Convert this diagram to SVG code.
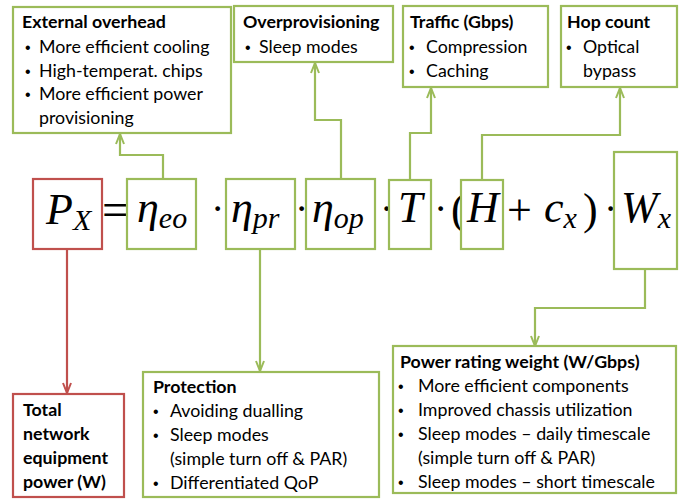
<svg xmlns="http://www.w3.org/2000/svg" width="686" height="500" viewBox="0 0 686 500">
<defs>
<style>
.g{fill:#fff;stroke:#9BBB59;stroke-width:2.2}
.r{fill:#fff;stroke:#C0504D;stroke-width:2.2}
.gl{fill:none;stroke:#9BBB59;stroke-width:2.2}
.rl{fill:none;stroke:#C0504D;stroke-width:2.2}
.t{font-family:Lato,"Open Sans","Liberation Sans",sans-serif;font-size:17.8px;fill:#000}
.bu{font-family:"Liberation Sans",Arial,sans-serif;font-size:16px;fill:#000}
.b{font-weight:bold}
.m{font-family:"Liberation Serif","DejaVu Serif",serif;font-style:italic;fill:#000}
.mn{font-family:"Liberation Serif","DejaVu Serif",serif;fill:#000}
</style>
<marker id="ag" viewBox="0 0 12 10" refX="11" refY="5" markerWidth="12" markerHeight="10" markerUnits="userSpaceOnUse" orient="auto"><path d="M1,1 L11,5 L1,9" fill="none" stroke="#9BBB59" stroke-width="2"/></marker>
<marker id="ar" viewBox="0 0 12 10" refX="11" refY="5" markerWidth="12" markerHeight="10" markerUnits="userSpaceOnUse" orient="auto"><path d="M1,1 L11,5 L1,9" fill="none" stroke="#C0504D" stroke-width="2"/></marker>
</defs>
<rect width="686" height="500" fill="#fff"/>

<g id="connectors">
<polyline class="gl" points="163,179 163,155 120,155 120,134" marker-end="url(#ag)"/>
<polyline class="gl" points="341,179 341,120 315,120 315,63" marker-end="url(#ag)"/>
<polyline class="gl" points="410,180 410,133 431,133 431,88" marker-end="url(#ag)"/>
<polyline class="gl" points="482,180 482,135 620,135 620,88" marker-end="url(#ag)"/>
<polyline class="gl" points="645,269 645,308 535,308 535,346" marker-end="url(#ag)"/>
<polyline class="gl" points="260,249 260,371" marker-end="url(#ag)"/>
<polyline class="rl" points="67,249 67,393" marker-end="url(#ar)"/>
</g>

<g id="external-overhead">
<rect class="g" x="13" y="7" width="218" height="126"/>
<text class="t b" x="22" y="28">External overhead</text>
<text class="bu" x="25" y="53">•</text><text class="t" x="39" y="53">More efficient cooling</text>
<text class="bu" x="25" y="77">•</text><text class="t" x="39" y="77">High-temperat. chips</text>
<text class="bu" x="25" y="100">•</text><text class="t" x="39" y="100">More efficient power</text>
<text class="t" x="39" y="124">provisioning</text>
</g>

<g id="overprovisioning">
<rect class="g" x="234" y="6" width="159" height="56"/>
<text class="t b" x="243" y="28">Overprovisioning</text>
<text class="bu" x="245" y="53">•</text><text class="t" x="259" y="53">Sleep modes</text>
</g>

<g id="traffic">
<rect class="g" x="403" y="6" width="145" height="81"/>
<text class="t b" x="410" y="28">Traffic (Gbps)</text>
<text class="bu" x="409" y="53">•</text><text class="t" x="426" y="53">Compression</text>
<text class="bu" x="409" y="77">•</text><text class="t" x="426" y="77">Caching</text>
</g>

<g id="hop-count">
<rect class="g" x="561" y="6" width="116" height="81"/>
<text class="t b" x="567" y="28">Hop count</text>
<text class="bu" x="566" y="53">•</text><text class="t" x="583" y="53">Optical</text>
<text class="t" x="583" y="77">bypass</text>
</g>

<g id="px">
<rect class="r" x="33" y="179" width="69" height="70"/>
<text class="m" x="46" y="224" font-size="44">P<tspan font-size="30" dy="6">X</tspan></text>
</g>
<text class="mn" x="102" y="226" font-size="48">=</text>

<g id="eta-eo">
<rect class="g" x="127" y="179" width="69" height="70"/>
<text class="m" x="137" y="222" font-size="44">η<tspan font-size="30" dy="6">eo</tspan></text>
</g>
<text class="mn" x="211" y="222" font-size="40">·</text>

<g id="eta-pr">
<rect class="g" x="226" y="179" width="69" height="70"/>
<text class="m" x="231" y="222" font-size="44">η<tspan font-size="30" dy="6">pr</tspan></text>
</g>
<text class="mn" x="295" y="222" font-size="40">·</text>

<g id="eta-op">
<rect class="g" x="306" y="179" width="69" height="70"/>
<text class="m" x="312" y="222" font-size="44">η<tspan font-size="30" dy="6">op</tspan></text>
</g>
<text class="mn" x="380" y="222" font-size="40">·</text>

<g id="t">
<rect class="g" x="389" y="180" width="42" height="69"/>
<text class="m" x="398" y="222" font-size="44">T</text>
</g>
<text class="mn" x="434" y="222" font-size="40">·</text>
<text class="mn" x="451" y="224" font-size="44">(</text>

<g id="h">
<rect class="g" x="461" y="180" width="42" height="69" fill="none"/>
<text class="m" x="467" y="222" font-size="44">H</text>
</g>
<text class="mn" x="507" y="225" font-size="44">+</text>
<text class="m" x="544" y="222" font-size="44">c<tspan font-size="30" dy="6">x</tspan></text>
<text class="mn" x="583" y="224" font-size="44">)</text>
<text class="mn" x="604" y="222" font-size="40">·</text>

<g id="wx">
<rect class="g" x="614" y="152" width="63" height="117"/>
<text class="m" x="621" y="222" font-size="44">W<tspan font-size="30" dy="6">x</tspan></text>
</g>

<g id="total">
<rect class="r" x="13" y="394" width="111" height="103"/>
<text class="t b" x="23" y="416">Total</text>
<text class="t b" x="23" y="440">network</text>
<text class="t b" x="23" y="464">equipment</text>
<text class="t b" x="23" y="488">power (W)</text>
</g>

<g id="protection">
<rect class="g" x="143" y="372" width="236" height="125"/>
<text class="t b" x="153" y="393">Protection</text>
<text class="bu" x="153" y="417">•</text><text class="t" x="170" y="417">Avoiding dualling</text>
<text class="bu" x="153" y="441">•</text><text class="t" x="170" y="441">Sleep modes</text>
<text class="t" x="170" y="465">(simple turn off &amp; PAR)</text>
<text class="bu" x="153" y="489">•</text><text class="t" x="170" y="489">Differentiated QoP</text>
</g>

<g id="power-rating">
<rect class="g" x="393" y="346" width="283" height="147"/>
<text class="t b" x="400" y="368">Power rating weight (W/Gbps)</text>
<text class="bu" x="398" y="392">•</text><text class="t" x="418" y="392">More efficient components</text>
<text class="bu" x="398" y="416">•</text><text class="t" x="418" y="416">Improved chassis utilization</text>
<text class="bu" x="398" y="440">•</text><text class="t" x="418" y="440">Sleep modes – daily timescale</text>
<text class="t" x="418" y="464">(simple turn off &amp; PAR)</text>
<text class="bu" x="398" y="488">•</text><text class="t" x="418" y="488">Sleep modes – short timescale</text>
</g>
</svg>
